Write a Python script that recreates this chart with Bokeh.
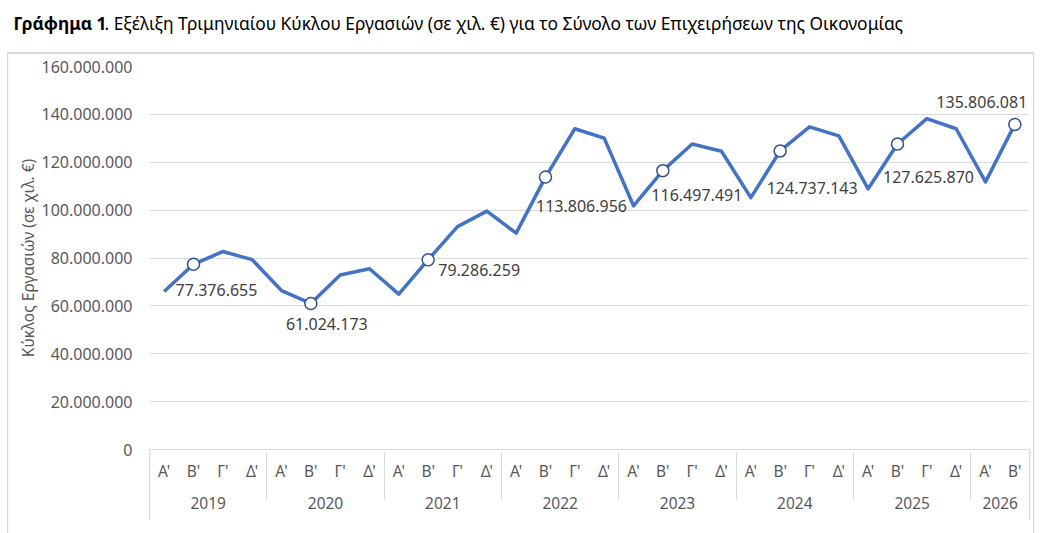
from bokeh.plotting import figure
from bokeh.models import (FactorRange, Range1d, ColumnDataSource, Label, FixedTicker)
from bokeh.core.properties import value
from bokeh.embed import file_html
from bokeh.resources import INLINE

FONT = "Noto Sans"

# data: quarterly turnover (thousand EUR)
years = ["2019", "2020", "2021", "2022", "2023", "2024", "2025", "2026"]
quarters = ["Α'", "Β'", "Γ'", "Δ'"]
turnover = [
    66_000_000, 77_376_655, 82_700_000, 79_300_000,
    66_400_000, 61_024_173, 72_900_000, 75_500_000,
    64_900_000, 79_286_259, 93_100_000, 99_600_000,
    90_400_000, 113_806_956, 134_000_000, 130_100_000,
    101_800_000, 116_497_491, 127_600_000, 124_600_000,
    105_200_000, 124_737_143, 134_800_000, 131_000_000,
    108_900_000, 127_625_870, 138_200_000, 134_000_000,
    111_800_000, 135_806_081,
]
y_ticks = [0, 20_000_000, 40_000_000, 60_000_000, 80_000_000,
           100_000_000, 120_000_000, 140_000_000, 160_000_000]

title_bold = "Γράφημα 1"
title_rest = ". Εξέλιξη Τριμηνιαίου Κύκλου Εργασιών (σε χιλ. €) για το Σύνολο των Επιχειρήσεων της Οικονομίας"
y_title = "Κύκλος Εργασιών (σε χιλ. €)"


def fmt(v):
    return f"{int(v):,}".replace(",", ".")


# blank middle level only adds a gap between quarter and year rows
factors = [(yr, " ", q) for yr in years for q in quarters][:len(turnover)]

# labelled points are the second quarters
lab_idx = [i for i in range(len(turnover)) if i % 4 == 1]
# label offsets in pixels (dx, dy) relative to the marker
lab_off = [(23, 26), (16, 21), (51, 10), (36, 29), (34, 24), (32, 37), (31, 33), (-33, -22)]

src = ColumnDataSource(dict(x=factors, y=turnover))
lab = ColumnDataSource(dict(
    x=[factors[i] for i in lab_idx],
    y=[turnover[i] for i in lab_idx],
    t=[fmt(turnover[i]) for i in lab_idx],
    dx=[o[0] for o in lab_off],
    dy=[o[1] for o in lab_off],
))

W, H = 1040, 533
p = figure(x_range=FactorRange(*factors, factor_padding=0, subgroup_padding=0,
                               group_padding=0, range_padding=0),
           y_range=Range1d(0, 160_000_000),
           width=W, height=H, output_backend="svg", toolbar_location=None,
           min_border_left=149, min_border_right=11, min_border_top=66, min_border_bottom=84)
p.outline_line_color = None
p.background_fill_color = "white"
p.border_fill_color = "white"

p.xgrid.grid_line_color = None
p.ygrid.grid_line_color = "#d9d9d9"
p.ygrid.grid_line_width = 1

p.yaxis.ticker = FixedTicker(ticks=y_ticks)
p.yaxis.major_label_overrides = {t: fmt(t) for t in y_ticks}
p.yaxis.axis_line_color = None
p.yaxis.major_tick_line_color = None
p.yaxis.minor_tick_line_color = None
p.yaxis.major_label_standoff = 11
p.yaxis.major_label_text_font = FONT
p.yaxis.major_label_text_font_size = "16px"
p.yaxis.major_label_text_color = "#595959"
p.yaxis.axis_label = y_title
p.yaxis.axis_label_text_font = FONT
p.yaxis.axis_label_text_font_size = "15.5px"
p.yaxis.axis_label_text_font_style = "normal"
p.yaxis.axis_label_text_color = "#595959"
p.yaxis.axis_label_standoff = 0

xa = p.xaxis[0]
xa.axis_line_color = "#d9d9d9"
xa.major_tick_line_color = None
xa.minor_tick_line_color = None
xa.major_label_text_font = FONT
xa.major_label_text_font_size = "15.5px"
xa.major_label_text_color = "#595959"
xa.major_label_standoff = 4
xa.subgroup_text_font_size = "1px"
xa.group_text_font = FONT
xa.group_text_font_size = "15.5px"
xa.group_text_font_style = "normal"
xa.group_text_color = "#595959"
xa.separator_line_color = "#d9d9d9"
xa.separator_line_width = 1

p.line("x", "y", source=src, line_color="#4472c4", line_width=3.5, line_join="round")
p.scatter(x="x", y="y", source=lab, size=12, fill_color="white",
          line_color="#2f528f", line_width=1.5)
p.text(x="x", y="y", text="t", source=lab, x_offset="dx", y_offset="dy",
       text_font=value(FONT), text_font_size="16px", text_color="#404040",
       text_align="center", text_baseline="middle")

# title, placed in the top side panel so it is not clipped to the frame
p.add_layout(Label(x=13, y=22, x_units="canvas", y_units="canvas", text=title_bold,
                   text_font=FONT, text_font_size="17.4px", text_font_style="bold",
                   text_color="black", text_baseline="middle"), "above")
p.add_layout(Label(x=104, y=22, x_units="canvas", y_units="canvas", text=title_rest,
                   text_font=FONT, text_font_size="17.4px", text_color="black",
                   text_baseline="middle"), "above")


# chart area border and outer axis edges, drawn as thin empty labels
def edge(x, y, pad, side):
    p.add_layout(Label(x=x, y=y, x_units="canvas", y_units="canvas", text=" ",
                       anchor="top_left", text_font_size="1px", padding=pad,
                       border_line_color="#d9d9d9", border_line_width=1,
                       background_fill_color=None), side)


edge(7, 52, dict(left=0, right=1026, top=0, bottom=0), "above")
edge(7, 52, dict(left=0, right=0, top=0, bottom=490), "left")
edge(1033, 52, dict(left=0, right=0, top=0, bottom=490), "right")
edge(149, 449, dict(left=0, right=0, top=0, bottom=69), "left")
edge(1029, 449, dict(left=0, right=0, top=0, bottom=69), "right")

open("out.html", "w").write(file_html(p, INLINE))
